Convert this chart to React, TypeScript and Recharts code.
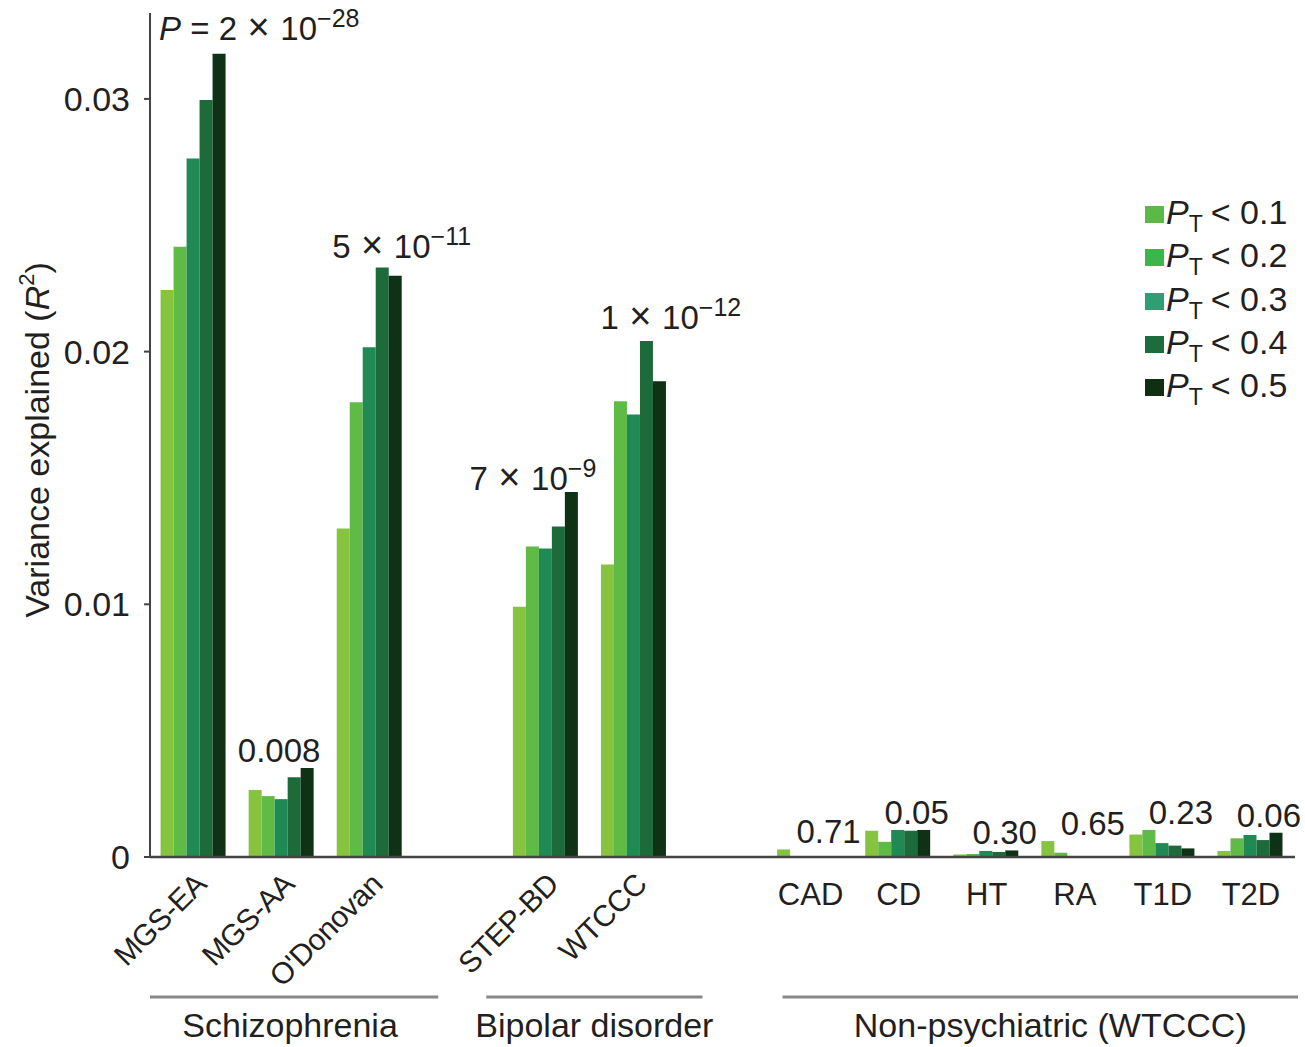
import { Bar, ComposedChart, LabelList, Legend, Line, XAxis, YAxis } from "recharts";

// categories on the x axis ("gap-*" are the empty slots between groups)
const categories = [
  "MGS-EA", "MGS-AA", "O'Donovan", "gap-1", "STEP-BD", "WTCCC", "gap-2",
  "CAD", "CD", "HT", "RA", "T1D", "T2D"
];

// variance explained (R^2) per P_T threshold
const ptLt01 = [0.02244, 0.00265, 0.0130, null, 0.0099, 0.01158, null, 0.0003, 0.00104, 0.0001, 0.00063, 0.00089, 0.00024];
const ptLt02 = [0.02415, 0.00241, 0.0180, null, 0.01229, 0.01804, null, 0.00003, 0.0006, 0.00012, 0.00017, 0.00107, 0.00074];
const ptLt03 = [0.02764, 0.00229, 0.02017, null, 0.01221, 0.01751, null, 0.00003, 0.00107, 0.00024, 0.00003, 0.00055, 0.00087];
const ptLt04 = [0.02996, 0.00316, 0.02333, null, 0.01308, 0.02042, null, 0.00003, 0.00104, 0.0002, 0.00003, 0.00045, 0.00067];
const ptLt05 = [0.03179, 0.00352, 0.0230, null, 0.01444, 0.01883, null, 0.00004, 0.00107, 0.00026, 0.00003, 0.00034, 0.00096];

const thresholdLabels = ["0.1", "0.2", "0.3", "0.4", "0.5"];

// P values written above each cohort ("mantissa e exponent")
const pValueLabels = ["2e-28", "0.008", "5e-11", "", "7e-9", "1e-12", "", "0.71", "0.05", "0.30", "0.65", "0.23", "0.06"];

const yTicks = [0, 0.01, 0.02, 0.03];

const groupNames = ["Schizophrenia", "Bipolar disorder", "Non-psychiatric (WTCCC)"];
const groupMembers = [
  ["MGS-EA", "MGS-AA", "O'Donovan"],
  ["STEP-BD", "WTCCC"],
  ["CAD", "CD", "HT", "RA", "T1D", "T2D"]
];
const rotatedCategories = ["MGS-EA", "MGS-AA", "O'Donovan", "STEP-BD", "WTCCC"];

const seriesValues = [ptLt01, ptLt02, ptLt03, ptLt04, ptLt05];
const seriesKeys = ["pt1", "pt2", "pt3", "pt4", "pt5"];
const barColors = ["#86c440", "#5fba46", "#1f8a54", "#1d6a3a", "#0f3216"];
const legendColors = ["#5cb947", "#3cb54a", "#2e9e74", "#1e6c3c", "#0f2e12"];

const FONT = "'Liberation Sans', Arial, Helvetica, sans-serif";
const INK = "#231f20";
const AXIS = "#444";

const rows = categories.map((name, i) => {
  const row: Record<string, string | number | null> = { name };
  const vals: number[] = [];
  seriesKeys.forEach((key, s) => {
    const v = seriesValues[s][i];
    row[key] = v;
    if (v != null) vals.push(v);
  });
  row.peak = vals.length ? Math.max(...vals) : null;
  return row;
});

// placement tweaks for the P value annotations
const labelLayout: Record<string, { anchor: "start" | "middle" | "end"; dx: number; dy: number }> = {
  "MGS-EA": { anchor: "start", dx: -35, dy: -14 },
  "MGS-AA": { anchor: "middle", dx: -3, dy: -6 },
  "O'Donovan": { anchor: "start", dx: -38, dy: -9 },
  "STEP-BD": { anchor: "end", dx: 50, dy: -2 },
  "WTCCC": { anchor: "start", dx: -34, dy: -12 }
};
const defaultLayout = { anchor: "middle" as const, dx: 18, dy: -6 };

// per group: [left pad, right pad, label shift]
const groupPads = [
  [0, 24, -4],
  [-16, 24, 0],
  [16, 3, 10]
];

const tickXs: Record<string, number> = {};

function CategoryTick(props: any) {
  const { x, y, payload } = props;
  const name = String(payload.value);
  tickXs[name] = x;
  const parts: any[] = [];

  if (!name.startsWith("gap")) {
    if (rotatedCategories.includes(name)) {
      const ax = x + 14;
      const ay = y + 29;
      parts.push(
        <text key="t" x={ax} y={ay} textAnchor="end" transform={`rotate(-45, ${ax}, ${ay})`}
          fontSize={30} fontFamily={FONT} fill={INK} letterSpacing={-0.5}>
          {name}
        </text>
      );
    } else {
      parts.push(
        <text key="t" x={x} y={y + 48} textAnchor="middle" fontSize={31} fontFamily={FONT} fill={INK}>
          {name}
        </text>
      );
    }
  }

  const g = groupMembers.findIndex((m) => m[m.length - 1] === name);
  if (g >= 0 && tickXs[groupMembers[g][0]] != null) {
    const band = tickXs["MGS-AA"] - tickXs["MGS-EA"];
    const [padL, padR, shift] = groupPads[g];
    const x1 = tickXs[groupMembers[g][0]] - band / 2 + padL;
    const x2 = x + band / 2 + padR;
    parts.push(
      <line key="l" x1={x1} x2={x2} y1={y + 140} y2={y + 140} stroke="#888" strokeWidth={3} />,
      <text key="g" x={(x1 + x2) / 2 + shift} y={y + 180} textAnchor="middle" fontSize={34}
        fontFamily={FONT} fill={INK}>
        {groupNames[g]}
      </text>
    );
  }

  return <g>{parts}</g>;
}

function PValueLabel(props: any) {
  const { x, y, index } = props;
  const raw = pValueLabels[index];
  if (!raw || y == null || Number.isNaN(y)) return null;
  const lay = labelLayout[categories[index]] ?? defaultLayout;
  const [mant, exp] = raw.split("e");

  return (
    <text x={x + lay.dx} y={y + lay.dy} textAnchor={lay.anchor} fontSize={33} fontFamily={FONT} fill={INK}>
      {index === 0 && <tspan fontStyle="italic">P</tspan>}
      {index === 0 && <tspan> = </tspan>}
      {exp ? (
        <>
          <tspan>{mant}</tspan>
          <tspan fontSize={38}>{" × "}</tspan>
          <tspan>10</tspan>
          <tspan dy={-13} fontSize={25}>{exp.replace("-", "−")}</tspan>
        </>
      ) : (
        <tspan>{mant}</tspan>
      )}
    </text>
  );
}

function YTitle(props: any) {
  const { viewBox } = props;
  const cx = 37;
  const cy = viewBox.y + viewBox.height / 2 + 5;
  return (
    <text x={cx} y={cy} textAnchor="middle" dominantBaseline="central" transform={`rotate(-90, ${cx}, ${cy})`}
      fontSize={34} fontFamily={FONT} fill={INK}>
      <tspan>Variance explained (</tspan>
      <tspan fontStyle="italic">R</tspan>
      <tspan dy={-11} fontSize={22}>2</tspan>
      <tspan dy={11}>)</tspan>
    </text>
  );
}

function ThresholdLegend() {
  return (
    <div style={{ fontFamily: FONT, color: INK }}>
      {thresholdLabels.map((t, i) => (
        <div key={t} style={{ height: 43.3, display: "flex", alignItems: "center", fontSize: 34, whiteSpace: "nowrap" }}>
          <span style={{ display: "inline-block", width: 19, height: 17, background: legendColors[i], marginRight: 2, marginTop: 4 }} />
          <span style={{ fontStyle: "italic" }}>P</span>
          <span style={{ fontSize: 23, position: "relative", top: 12, marginRight: 8 }}>T</span>
          <span>&lt; {t}</span>
        </div>
      ))}
    </div>
  );
}

export default function App() {
  return (
    <div style={{ position: "absolute", left: 0, top: 0, width: 1305, height: 1047, background: "#fff" }}>
      <ComposedChart
        width={1305}
        height={1047}
        data={rows}
        margin={{ top: 13, right: 10, bottom: 0, left: 0 }}
        barCategoryGap="12%"
        barGap={0}
      >
        <XAxis
          dataKey="name"
          interval={0}
          height={190}
          tick={<CategoryTick />}
          tickLine={false}
          tickSize={0}
          tickMargin={0}
          axisLine={{ stroke: AXIS, strokeWidth: 2.5 }}
        />
        <YAxis
          width={150}
          domain={[0, 0.0334]}
          ticks={yTicks}
          allowDataOverflow
          tickFormatter={(v: number) => (v === 0 ? "0" : v.toFixed(2))}
          tick={{ fontSize: 34, fill: INK, fontFamily: FONT }}
          tickSize={6}
          tickMargin={14}
          tickLine={{ stroke: AXIS, strokeWidth: 2 }}
          axisLine={{ stroke: AXIS, strokeWidth: 2 }}
          label={<YTitle />}
        />
        <Legend
          layout="vertical"
          align="center"
          verticalAlign="middle"
          content={<ThresholdLegend />}
          wrapperStyle={{ left: 1145, top: 191, width: 160 }}
        />
        {seriesKeys.map((key, i) => (
          <Bar key={key} dataKey={key} fill={barColors[i]} isAnimationActive={false} />
        ))}
        <Line
          dataKey="peak"
          stroke="none"
          dot={false}
          activeDot={false}
          legendType="none"
          isAnimationActive={false}
        >
          <LabelList dataKey="peak" content={<PValueLabel />} />
        </Line>
      </ComposedChart>
    </div>
  );
}
